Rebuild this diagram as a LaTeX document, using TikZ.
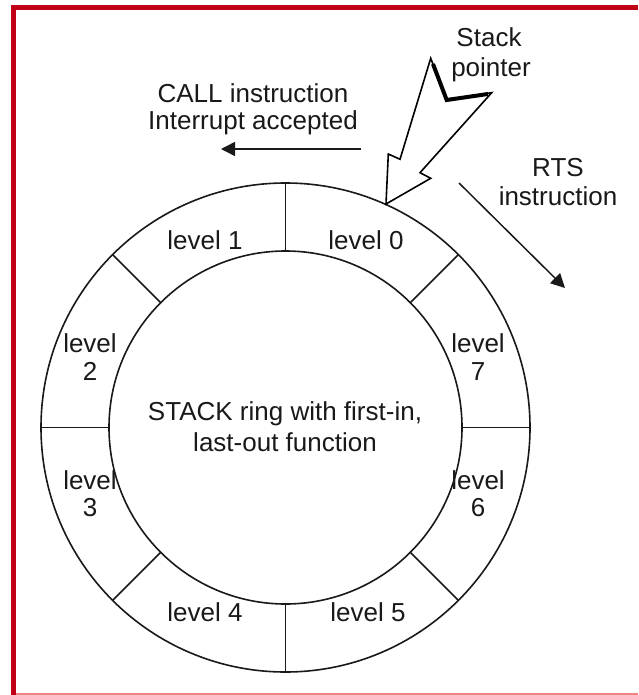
\documentclass[tikz,border=0pt]{standalone}
\usepackage{fontspec}
\setmainfont{Liberation Sans}
\usetikzlibrary{arrows.meta}
\definecolor{frame}{RGB}{192,0,22}
\definecolor{framelight}{RGB}{240,130,125}
\tikzset{
  lbl/.style={font=\fontsize{26}{30}\selectfont, anchor=base, inner sep=0pt, text=black!90},
  ringline/.style={line width=1.6pt, draw=black!90},
  flow/.style={line width=1.5pt, draw=black!90, -{Triangle[length=14pt,width=14pt]}},
}
\begin{document}
\begin{tikzpicture}[x=1pt,y=-1pt]
  \useasboundingbox (0,0) rectangle (638,695);
  \fill[white] (0,0) rectangle (638,695);
  % frame
  \fill[frame] (11,5) rectangle (638,10);
  \fill[frame] (11,5) rectangle (16,695);
  \fill[framelight] (16,693) rectangle (638,695);

  % ring
  \coordinate (c) at (285.5,427.5);
  \draw[ringline] (c) circle (244.5);
  \draw[ringline] (c) circle (176.5);
  \foreach \a in {0,45,...,315}
    \draw[ringline, shift={(c)}] (\a:176.5) -- (\a:244.5);

  % segment labels
  \node[lbl] (l0) at (366,249) {level 0};
  \node[lbl] (l1) at (205,249) {level 1};
  \node[lbl] (l2a) at (90,352) {level};
  \node[lbl] (l2b) at (90,380) {2};
  \node[lbl] (l7a) at (478,352) {level};
  \node[lbl] (l7b) at (478,380) {7};
  \node[lbl] (l3a) at (90,489) {level};
  \node[lbl] (l3b) at (90,516) {3};
  \node[lbl] (l6a) at (478,489) {level};
  \node[lbl] (l6b) at (478,516) {6};
  \node[lbl] (l4) at (205,621) {level 4};
  \node[lbl] (l5) at (368,621) {level 5};

  % centre caption
  \node[lbl] (cap1) at (285,420) {STACK ring with first-in,};
  \node[lbl] (cap2) at (285,451) {last-out function};

  % push direction
  \node[lbl] (call1) at (253,103) {CALL instruction};
  \node[lbl] (call2) at (253,130) {Interrupt accepted};
  \coordinate (callS) at (361,149);
  \coordinate (callE) at (221,149);
  \draw[flow] (callS) -- (callE);

  % pop direction
  \node[lbl] (rts1) at (558,176) {RTS};
  \node[lbl] (rts2) at (558,205) {instruction};
  \coordinate (rtsS) at (459,183);
  \coordinate (rtsE) at (565,288);
  \draw[flow] (rtsS) -- (rtsE);

  % stack pointer bolt
  \node[lbl] (sp1) at (489,47) {Stack};
  \node[lbl] (sp2) at (491,77) {pointer};
  \draw[line width=1.6pt, line join=miter, fill=white]
    (430.7,58.3) -- (446.7,100) -- (491.7,92.7) -- (420,172.7) -- (430.7,178.3)
    -- (386,204) -- (388.3,154) -- (400,159.3) -- cycle;
  \draw[line width=4pt, line join=miter, line cap=butt]
    (433,64) -- (446.7,100) -- (488,94);
\end{tikzpicture}
\end{document}
